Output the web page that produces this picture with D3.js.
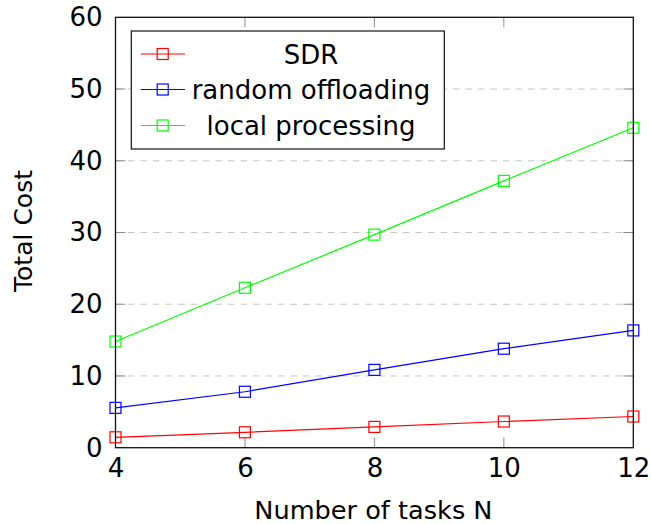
<!DOCTYPE html>
<html>
<head>
<meta charset="utf-8">
<script src="https://cdn.jsdelivr.net/npm/d3@7"></script>
<style>
  html, body { margin: 0; padding: 0; background: #fff; }
  svg { display: block; }
  text { font-family: "DejaVu Sans", sans-serif; fill: #000; }
</style>
</head>
<body>
<svg id="chart" width="651" height="524"></svg>
<script>
const tasks = [4, 6, 8, 10, 12];
const sdr = [1.45, 2.15, 2.9, 3.65, 4.35];
const randomOffloading = [5.55, 7.8, 10.85, 13.8, 16.35];
const localProcessing = [14.8, 22.3, 29.7, 37.2, 44.6];
const seriesNames = ["SDR", "random offloading", "local processing"];
const seriesColors = ["#ff0000", "#0000ff", "#00ff00"];
const xTicks = [4, 6, 8, 10, 12];
const yTicks = [0, 10, 20, 30, 40, 50, 60];
const xLabel = "Number of tasks N";
const yLabel = "Total Cost";

const series = [sdr, randomOffloading, localProcessing];

const svg = d3.select("#chart");
const L = 115.5, R = 633.3, T = 17.3, B = 447.7;

const x = d3.scaleLinear().domain([4, 12]).range([L, R]);
const y = d3.scaleLinear().domain([0, 60]).range([B, T]);

// grid lines (horizontal, dashed)
svg.append("g").selectAll("line")
  .data(yTicks.filter(v => v > 0 && v < 60))
  .join("line")
  .attr("x1", L).attr("x2", R)
  .attr("y1", d => y(d)).attr("y2", d => y(d))
  .attr("stroke", "#c4c4c4").attr("stroke-width", 1)
  .attr("stroke-dasharray", "6.5,6");

// tick marks inside frame
const tk = svg.append("g").attr("stroke", "#8a8a8a").attr("stroke-width", 1);
xTicks.filter(v => v > 4 && v < 12).forEach(v => {
  tk.append("line").attr("x1", x(v)).attr("x2", x(v)).attr("y1", B).attr("y2", B - 10);
  tk.append("line").attr("x1", x(v)).attr("x2", x(v)).attr("y1", T).attr("y2", T + 10);
});
yTicks.filter(v => v > 0 && v < 60).forEach(v => {
  tk.append("line").attr("x1", L).attr("x2", L + 10).attr("y1", y(v)).attr("y2", y(v));
  tk.append("line").attr("x1", R).attr("x2", R - 10).attr("y1", y(v)).attr("y2", y(v));
});

// axis tick labels via d3 axes (domain/ticks hidden)
const xAxis = svg.append("g").attr("transform", `translate(0,${B})`)
  .call(d3.axisBottom(x).tickValues(xTicks).tickSize(0).tickPadding(11));
xAxis.select(".domain").remove();
xAxis.selectAll("text").attr("font-size", 26).attr("font-family", "DejaVu Sans").attr("fill", "#000");

const yAxis = svg.append("g").attr("transform", `translate(${L},0)`)
  .call(d3.axisLeft(y).tickValues(yTicks).tickSize(0).tickPadding(13));
yAxis.select(".domain").remove();
yAxis.selectAll("text").attr("font-size", 26).attr("font-family", "DejaVu Sans").attr("fill", "#000");

// series
const line = d3.line().x((d, i) => x(tasks[i])).y(d => y(d));
series.forEach((s, k) => {
  svg.append("path").datum(s)
    .attr("d", line).attr("fill", "none")
    .attr("stroke", seriesColors[k]).attr("stroke-width", 1.2);
  svg.append("g").selectAll("rect").data(s).join("rect")
    .attr("x", (d, i) => x(tasks[i]) - 5.5)
    .attr("y", d => y(d) - 5.5)
    .attr("width", 11).attr("height", 11)
    .attr("fill", "none").attr("stroke", seriesColors[k]).attr("stroke-width", 1.2);
});

// frame
svg.append("rect").attr("x", L).attr("y", T).attr("width", R - L).attr("height", B - T)
  .attr("fill", "none").attr("stroke", "#111").attr("stroke-width", 1.3);

// axis labels
svg.append("text").attr("x", (L + R) / 2 - 1).attr("y", 519)
  .attr("text-anchor", "middle").attr("font-size", 25.6).text(xLabel);
svg.append("text").attr("transform", "translate(32,231) rotate(-90)")
  .attr("text-anchor", "middle").attr("font-size", 25).text(yLabel);

// legend
const lg = svg.append("g");
lg.append("rect").attr("x", 131.3).attr("y", 31).attr("width", 313).attr("height", 118)
  .attr("fill", "#fff").attr("stroke", "#111").attr("stroke-width", 1.2);
const rowY = [54, 89.5, 125.5];
seriesNames.forEach((name, k) => {
  const g = lg.append("g");
  g.append("line").attr("x1", 140.7).attr("x2", 185).attr("y1", rowY[k]).attr("y2", rowY[k])
    .attr("stroke", seriesColors[k]).attr("stroke-width", 1.2);
  g.append("rect").attr("x", 162.7 - 5.5).attr("y", rowY[k] - 5.5).attr("width", 11).attr("height", 11)
    .attr("fill", "none").attr("stroke", seriesColors[k]).attr("stroke-width", 1.2);
  g.append("text").attr("x", 311).attr("y", rowY[k] + 9.5).attr("text-anchor", "middle")
    .attr("font-size", 26).text(name);
});
</script>
</body>
</html>
